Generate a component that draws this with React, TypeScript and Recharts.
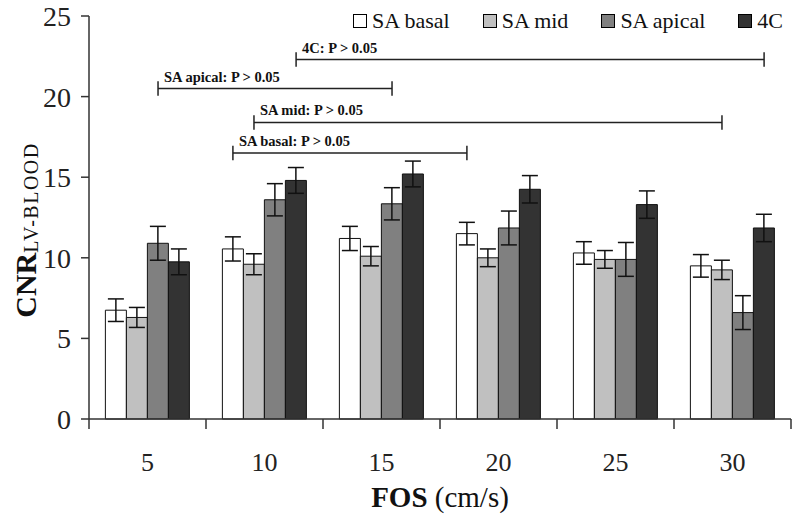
import { Bar, BarChart, ErrorBar, Legend, ReferenceLine, XAxis, YAxis } from 'recharts'

const fosLabels = ['5', '10', '15', '20', '25', '30']

const seriesNames = ['SA basal', 'SA mid', 'SA apical', '4C']
const seriesKeys = ['basal', 'mid', 'apical', 'fourC']
const seriesFills = ['#ffffff', '#c0c0c0', '#808080', '#333333']

const saBasal = [6.75, 10.55, 11.2, 11.5, 10.3, 9.5]
const saBasalErr = [0.7, 0.75, 0.75, 0.7, 0.7, 0.7]
const saMid = [6.3, 9.6, 10.1, 10.0, 9.9, 9.25]
const saMidErr = [0.62, 0.65, 0.6, 0.55, 0.55, 0.6]
const saApical = [10.9, 13.6, 13.35, 11.85, 9.9, 6.6]
const saApicalErr = [1.05, 1.0, 1.0, 1.05, 1.05, 1.05]
const fourC = [9.75, 14.8, 15.2, 14.25, 13.3, 11.85]
const fourCErr = [0.8, 0.8, 0.8, 0.85, 0.85, 0.85]

const yTicks = [0, 5, 10, 15, 20, 25]

// significance brackets: series index, from / to category index, height in data units
const brackets = [
  { label: '4C: P > 0.05', series: 3, from: 1, to: 5, y: 22.3 },
  { label: 'SA apical: P > 0.05', series: 2, from: 0, to: 2, y: 20.5 },
  { label: 'SA mid: P > 0.05', series: 1, from: 1, to: 5, y: 18.4 },
  { label: 'SA basal: P > 0.05', series: 0, from: 1, to: 3, y: 16.5 }
]

const data = fosLabels.map((fos, i) => ({
  fos,
  pos: i + 1,
  basal: saBasal[i],
  basalErr: saBasalErr[i],
  mid: saMid[i],
  midErr: saMidErr[i],
  apical: saApical[i],
  apicalErr: saApicalErr[i],
  fourC: fourC[i],
  fourCErr: fourCErr[i]
}))

const serif = '"Liberation Serif", "Times New Roman", serif'
const axisColor = '#333333'
const catGap = 0.14
// width of one bar as a fraction of a category band
const barFrac = (1 - 2 * catGap) / seriesKeys.length

const barCenter = (category: number, series: number): number =>
  category + 1 + (series - (seriesKeys.length - 1) / 2) * barFrac

function FosTick(props: any): JSX.Element {
  const { x, y, payload, index } = props
  const half = payload?.offset ?? 58.5
  return (
    <g>
      <line x1={x - half} y1={y} x2={x - half} y2={y + 10} stroke={axisColor} strokeWidth={1.5} />
      {index === fosLabels.length - 1 && (
        <line x1={x + half} y1={y} x2={x + half} y2={y + 10} stroke={axisColor} strokeWidth={1.5} />
      )}
      <text x={x} y={y + 52} textAnchor="middle" fontSize={26} fill="#222" fontFamily={serif}>
        {payload.value}
      </text>
    </g>
  )
}

const renderXLabel = (): JSX.Element => (
  <text x={440} y={507} textAnchor="middle" fontFamily={serif} fontSize={29} fill="#111">
    <tspan fontWeight="bold">FOS</tspan>
    <tspan> (cm/s)</tspan>
  </text>
)

const renderYLabel = (): JSX.Element => (
  <text x={36} y={230} transform="rotate(-90 36 230)" textAnchor="middle" fontFamily={serif} fill="#111">
    <tspan fontSize={30} fontWeight="bold">CNR</tspan>
    <tspan fontSize={20} dy={2} letterSpacing={1.5}>LV-BLOOD</tspan>
  </text>
)

const renderLegend = (): JSX.Element => (
  <div
    style={{
      display: 'flex',
      justifyContent: 'flex-end',
      paddingRight: 17,
      fontFamily: serif,
      fontSize: 22,
      color: '#111',
      lineHeight: '26px'
    }}
  >
    {seriesNames.map((name, i) => (
      <div key={name} style={{ display: 'flex', alignItems: 'center', marginLeft: i === 0 ? 0 : 33 }}>
        <span
          style={{
            width: 12,
            height: 12,
            border: '1px solid #000',
            background: seriesFills[i],
            marginRight: 5
          }}
        />
        <span>{name}</span>
      </div>
    ))}
  </div>
)

export default function App(): JSX.Element {
  return (
    <div style={{ position: 'absolute', left: 0, top: 0, background: '#fff' }}>
      <BarChart
        width={800}
        height={522}
        data={data}
        margin={{ top: 16, right: 9, left: 0, bottom: 0 }}
        barCategoryGap={`${catGap * 100}%`}
        barGap={0}
      >
        <XAxis
          dataKey="fos"
          height={103}
          tickSize={0}
          tickMargin={0}
          tickLine={false}
          tick={<FosTick />}
          interval={0}
          stroke={axisColor}
          strokeWidth={1.5}
          label={renderXLabel}
        />
        <XAxis
          xAxisId="pos"
          dataKey="pos"
          type="number"
          domain={[0.5, fosLabels.length + 0.5]}
          allowDataOverflow
          hide
        />
        <YAxis
          domain={[0, 25]}
          ticks={yTicks}
          width={89}
          tickSize={8}
          tickMargin={10}
          stroke={axisColor}
          strokeWidth={1.5}
          tick={{ fontSize: 28, fill: '#222', fontFamily: serif }}
          label={renderYLabel}
        />
        <Legend
          verticalAlign="top"
          align="right"
          content={renderLegend}
          wrapperStyle={{ top: 8, left: 0, width: 800, height: 0 }}
        />
        {seriesKeys.map((key, i) => (
          <Bar
            key={key}
            dataKey={key}
            name={seriesNames[i]}
            fill={seriesFills[i]}
            stroke="#111"
            strokeWidth={1}
            isAnimationActive={false}
          >
            <ErrorBar dataKey={`${key}Err`} width={8} stroke="#111" strokeWidth={1.5} />
          </Bar>
        ))}
        {brackets.flatMap((b) => {
          const x1 = barCenter(b.from, b.series)
          const x2 = barCenter(b.to, b.series)
          return [
            <ReferenceLine
              key={`${b.label}-h`}
              xAxisId="pos"
              segment={[
                { x: x1, y: b.y },
                { x: x2, y: b.y }
              ]}
              stroke="#222"
              strokeWidth={1.5}
              label={(p: any) => (
                <text
                  x={p.viewBox.x + 6}
                  y={p.viewBox.y - 7}
                  fontFamily={serif}
                  fontWeight="bold"
                  fontSize={14.5}
                  fill="#111"
                >
                  {b.label}
                </text>
              )}
            />,
            <ReferenceLine
              key={`${b.label}-l`}
              xAxisId="pos"
              segment={[
                { x: x1, y: b.y - 0.45 },
                { x: x1, y: b.y + 0.45 }
              ]}
              stroke="#222"
              strokeWidth={1.5}
            />,
            <ReferenceLine
              key={`${b.label}-r`}
              xAxisId="pos"
              segment={[
                { x: x2, y: b.y - 0.45 },
                { x: x2, y: b.y + 0.45 }
              ]}
              stroke="#222"
              strokeWidth={1.5}
            />
          ]
        })}
      </BarChart>
    </div>
  )
}
